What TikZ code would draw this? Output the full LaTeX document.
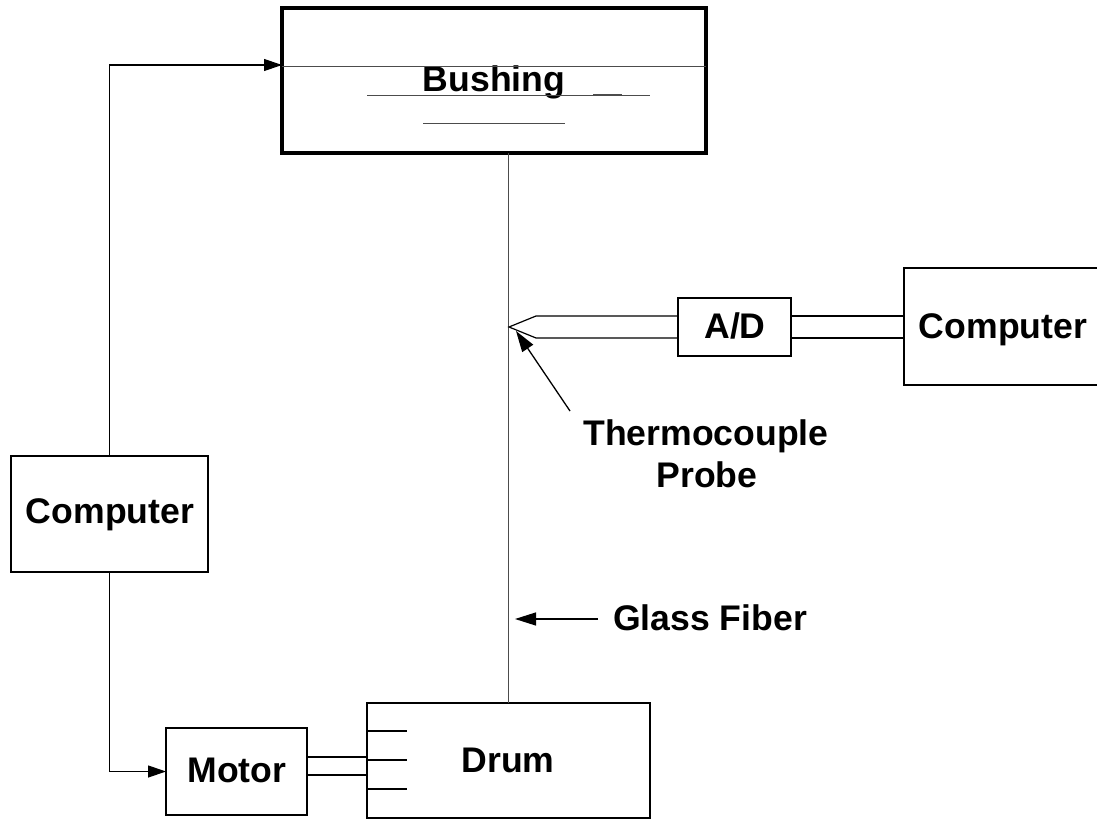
\documentclass[tikz,border=0pt]{standalone}
\usepackage{fontspec}
\setmainfont{Liberation Sans}
\usetikzlibrary{arrows.meta}
\begin{document}
\begin{tikzpicture}[x=1pt,y=-1pt,
  box/.style={draw, line width=1.3pt, inner sep=0pt, outer sep=0pt},
  lbl/.style={anchor=base, inner sep=0pt, font=\fontsize{35.6}{42}\selectfont\bfseries},
  conn/.style={line width=1.2pt},
  arr/.style={line width=1.2pt, -{Triangle[length=18pt,width=12pt]}},
  bigarr/.style={line width=1.3pt, -{Triangle[length=21pt,width=13pt]}},
  thin/.style={line width=1pt, draw=black!70}]
\useasboundingbox (0,0) rectangle (1097,821);
% boxes
\node[box, line width=4.5pt, minimum width=424pt, minimum height=145pt] (bushing) at (494,80.5) {};
\node[box, minimum width=197pt, minimum height=116pt] (lc) at (109.5,514) {};
\node[box, minimum width=196pt, minimum height=117pt] (rc) at (1002,326.5) {};
\node[box, minimum width=113pt, minimum height=58pt] (ad) at (734.5,327) {};
\node[box, minimum width=141pt, minimum height=87pt] (motor) at (236.5,771.5) {};
\node[box, minimum width=283pt, minimum height=115pt] (drum) at (508.5,760.5) {};
% labels
\node[lbl] (tbush) at (494,92) {Bushing};
\node[lbl] (tlc) at (110,523) {Computer};
\node[lbl] (trc) at (1003,338) {Computer};
\node[lbl] (tad) at (735,338) {A/D};
\node[lbl] (tmotor) at (237,782) {Motor};
\node[lbl] (tdrum) at (508,772) {Drum};
\node[lbl] (ttc) at (706,445) {Thermocouple};
\node[lbl] (tprobe) at (707,487) {Probe};
\node[lbl] (tgf) at (710,630) {Glass Fiber};
% bushing interior lines
\coordinate (bin) at (282,65);
\draw[thin] (282,67) -- (706,67);
\draw[thin] (367,96) -- (650,96);
\draw[line width=2pt, draw=black!70] (593,95.5) -- (622,95.5);
\draw[thin] (423,124) -- (565,124);
% computer to bushing and motor
\draw[arr] (lc.north) |- (bin);
\draw[arr] (lc.south) |- (motor.west);
% glass fiber
\draw[thin] (drum.north) -- (drum.north |- bushing.south);
% thermocouple probe
\coordinate (tip) at (509,327);
\coordinate (pu) at (536,316);
\coordinate (pl) at (536,338);
\draw[conn] (ad.west |- pu) -- (pu) -- (tip) -- (pl) -- (ad.west |- pl);
\draw[conn] (ad.east |- pu) -- (rc.west |- pu);
\draw[conn] (ad.east |- pl) -- (rc.west |- pl);
% arrows to labels
\coordinate (tcs) at (570,411);
\coordinate (tce) at (516,331);
\draw[bigarr] (tcs) -- (tce);
\coordinate (gfs) at (598,619);
\coordinate (gfe) at (515,619);
\draw[bigarr] (gfs) -- (gfe);
% motor to drum shaft
\draw[conn] (motor.east |- 0,757) -- (drum.west |- 0,757);
\draw[conn] (motor.east |- 0,775) -- (drum.west |- 0,775);
% drum ticks
\draw[conn] (drum.west |- 0,731) -- +(40,0);
\draw[conn] (drum.west |- 0,760) -- +(40,0);
\draw[conn] (drum.west |- 0,789) -- +(40,0);
\end{tikzpicture}
\end{document}
